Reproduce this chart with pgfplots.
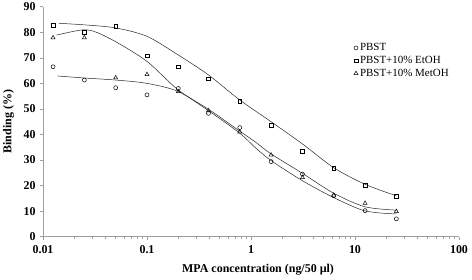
\documentclass[border=0pt]{standalone}
\usepackage{fontspec}
\setmainfont{Liberation Serif}
\usepackage{pgfplots}
\pgfplotsset{compat=1.18}
\begin{document}
\begin{tikzpicture}
\begin{axis}[
  at={(0,0)}, anchor=south west,
  scale only axis, width=416bp, height=230bp,
  xmode=log, xmin=0.01, xmax=100, ymin=0, ymax=90,
  axis x line*=bottom, axis y line*=left,
  axis line style={draw=gray!75, line width=0.6pt},
  tick style={draw=gray!75, line width=0.6pt},
  tick align=outside,
  major tick length=3bp, minor tick length=2.5bp,
  xtick={0.01,0.1,1,10,100},
  xticklabels={0.01,0.1,1,10,100},
  minor xtick={0.02,0.03,0.04,0.05,0.06,0.07,0.08,0.09,0.2,0.3,0.4,0.5,0.6,0.7,0.8,0.9,2,3,4,5,6,7,8,9,20,30,40,50,60,70,80,90},
  ytick={0,10,...,90},
  /pgf/number format/assume math mode=true,
  ticklabel style={font=\fontsize{12}{14}\selectfont\bfseries},
  xticklabel style={yshift=-2.5bp},
  yticklabel style={xshift=-1bp},
  every axis y label/.style={at={(axis description cs:-0.083,0.5)}, rotate=90, anchor=center},
  every axis x label/.style={at={(axis description cs:0.517,-0.145)}, anchor=center},
  label style={font=\fontsize{12}{14}\selectfont\bfseries},
  xlabel={MPA concentration (ng/50 µl)},
  ylabel={Binding (\%)},
  legend style={at={(axis description cs:0.740,0.858)}, anchor=north west, draw=none, fill=none,
    font=\fontsize{11}{13.5}\selectfont, row sep=0pt},
  legend cell align=left,
  legend image code/.code={\draw[#1] plot coordinates {(1.5bp,0bp)};},
  every axis plot/.append style={line width=0.5pt},
]
% fitted curves
\addplot[black!85, smooth, tension=0.5, forget plot] coordinates {
 (0.0138,62.9) (0.025,62.1) (0.05,61.3) (0.1,60.0) (0.2,56.8) (0.4,49.0) (0.78,40.5) (1.09,35.0) (1.56,29.8) (3.125,21.9) (6.25,15.3) (12.5,10.1) (25,8.9)};
\addplot[black!85, smooth, tension=0.5, forget plot] coordinates {
 (0.01425,83.5) (0.025,82.9) (0.05,81.7) (0.1,78.4) (0.2,71.1) (0.39,63.3) (0.78,53.5) (1.56,45.0) (3.125,36.3) (6.25,27.0) (12.5,20.5) (25,16.0)};
\addplot[black!85, smooth, tension=0.5, forget plot] coordinates {
 (0.0135,78.9) (0.0236,80.9) (0.0316,80.2) (0.05,76.3) (0.1,68.6) (0.2,57.4) (0.4,49.6) (0.78,41.3) (1.09,37.2) (1.56,32.4) (3.125,24.8) (6.25,17.0) (12.5,11.7) (25,10.4)};
% data points
\addplot[only marks, mark=o, mark size=2bp, black] coordinates {
 (0.0125,66.5) (0.025,61.3) (0.05,58.3) (0.1,55.5) (0.2,58.0) (0.39,48.3) (0.78,42.7) (1.56,29.4) (3.125,24.5) (6.25,16.0) (12.5,10.2) (25,7.0)};
\addlegendentry{PBST}
\addplot[only marks, mark=square, mark size=1.9bp, black] coordinates {
 (0.0125,82.6) (0.025,80.0) (0.05,82.5) (0.1,70.8) (0.2,66.5) (0.39,61.8) (0.78,53.1) (1.56,43.7) (3.125,33.3) (6.25,26.9) (12.5,20.2) (25,15.9)};
\addlegendentry{PBST+10\% EtOH}
\addplot[only marks, mark=triangle, mark size=2.3bp, black] coordinates {
 (0.0125,77.9) (0.025,77.9) (0.05,62.2) (0.1,63.5) (0.2,56.8) (0.39,49.3) (0.78,41.0) (1.56,32.0) (3.125,23.2) (6.25,16.3) (12.5,13.1) (25,9.9)};
\addlegendentry{PBST+10\% MetOH}
\end{axis}
\pgfresetboundingbox
\useasboundingbox (-43bp,-43.3bp) rectangle (429bp,236.7bp);
\end{tikzpicture}
\end{document}
